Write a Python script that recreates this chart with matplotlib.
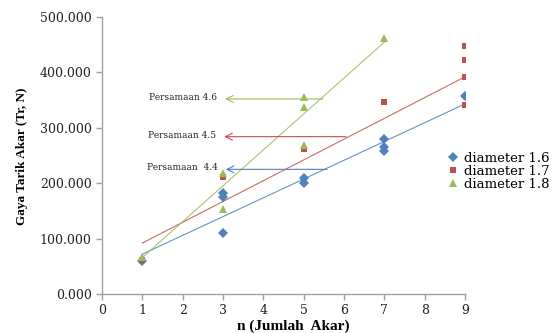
import matplotlib
matplotlib.use("Agg")
import matplotlib.pyplot as plt
import numpy as np

# ---- data ----
n_16 = [1, 3, 3, 3, 5, 5, 7, 7, 7, 9]
f_16 = [60, 110, 175, 183, 210, 201, 280, 265, 258, 357]
n_17 = [1, 3, 5, 7, 9, 9, 9, 9]
f_17 = [62, 212, 262, 346, 447, 422, 392, 341]
n_18 = [1, 3, 3, 5, 5, 5, 7]
f_18 = [67, 219, 153, 356, 338, 269, 462]
series_labels = ["diameter 1.6", "diameter 1.7", "diameter 1.8"]

# trendlines (slope, intercept, n range)
trend_slope = [33.9, 37.5, 64.8]
trend_intercept = [38.0, 54.5, 1.0]
trend_n_start = [1, 1, 1]
trend_n_end = [9, 9, 7]

# equation annotations: label, level (N), arrow start n, arrow end n
eq_labels = ["Persamaan 4.6", "Persamaan 4.5", "Persamaan  4.4"]
eq_levels = [352, 284, 225]
eq_n_tip = [3.05, 3.03, 3.07]
eq_n_tail = [5.48, 6.05, 5.58]

x_ticks = list(range(0, 10))
y_ticks = [0, 100, 200, 300, 400, 500]
y_tick_labels = ["0.000", "100.000", "200.000", "300.000", "400.000", "500.000"]

colors = ["#4F81BD", "#C0504D", "#9BBB59"]
markers = ["D", "s", "^"]
msizes = [4.6, 4.8, 5.4]

fig = plt.figure(figsize=(5.55, 3.33), dpi=100)
ax = fig.add_axes([102/555, 1-294/333, (465-102)/555, (294-17)/333])

all_n = [n_16, n_17, n_18]
all_f = [f_16, f_17, f_18]
handles = []
for i in range(3):
    h, = ax.plot(all_n[i], all_f[i], linestyle="none", marker=markers[i],
                 color=colors[i], markersize=msizes[i], markeredgewidth=0,
                 label=series_labels[i], zorder=3)
    handles.append(h)
    xs = np.array([trend_n_start[i], trend_n_end[i]], dtype=float)
    ax.plot(xs, trend_slope[i]*xs + trend_intercept[i], color=colors[i],
            lw=0.8, alpha=0.85, zorder=2)

eq_colors = [colors[2], colors[1], colors[0]]
for lab, lev, tip, tail, c in zip(eq_labels, eq_levels, eq_n_tip, eq_n_tail, eq_colors):
    ax.annotate("", xy=(tip, lev), xytext=(tail, lev),
                arrowprops=dict(arrowstyle="->,head_length=0.5,head_width=0.25",
                                color=c, lw=0.8, shrinkA=0, shrinkB=0))
    ax.text(tip - 0.2, lev + 3, lab, ha="right", va="center",
            fontsize=6.5, family="DejaVu Serif", color="#222222")

ax.set_xlim(0, 9)
ax.set_ylim(0, 500)
ax.set_xticks(x_ticks)
ax.set_yticks(y_ticks)
ax.set_yticklabels(y_tick_labels)
for s in ["top", "right"]:
    ax.spines[s].set_visible(False)
for s in ["left", "bottom"]:
    ax.spines[s].set_color("#A0A0A0")
    ax.spines[s].set_linewidth(1.0)
ax.tick_params(direction="out", length=4, color="#A0A0A0", width=1.0,
               labelsize=9, labelcolor="#222222")
for lbl in ax.get_xticklabels() + ax.get_yticklabels():
    lbl.set_family("DejaVu Serif")

fig.text(22/555, 1-156/333, "Gaya Tarik Akar (Tr, N)", rotation=90,
         ha="center", va="center", fontsize=9.5, fontweight="bold",
         family="Liberation Serif")
fig.text(293/555, 1-326/333, "n (Jumlah  Akar)", ha="center", va="center",
         fontsize=11, fontweight="bold", family="Liberation Serif")

fig.legend(handles=handles, loc="upper left",
           bbox_to_anchor=(448/555, 1-152/333), frameon=False,
           prop={"family": "DejaVu Serif", "size": 9.5}, borderpad=0,
           labelspacing=0.0, handlelength=0.8, handletextpad=0.4,
           borderaxespad=0)

fig.savefig("out.png", dpi=100)
